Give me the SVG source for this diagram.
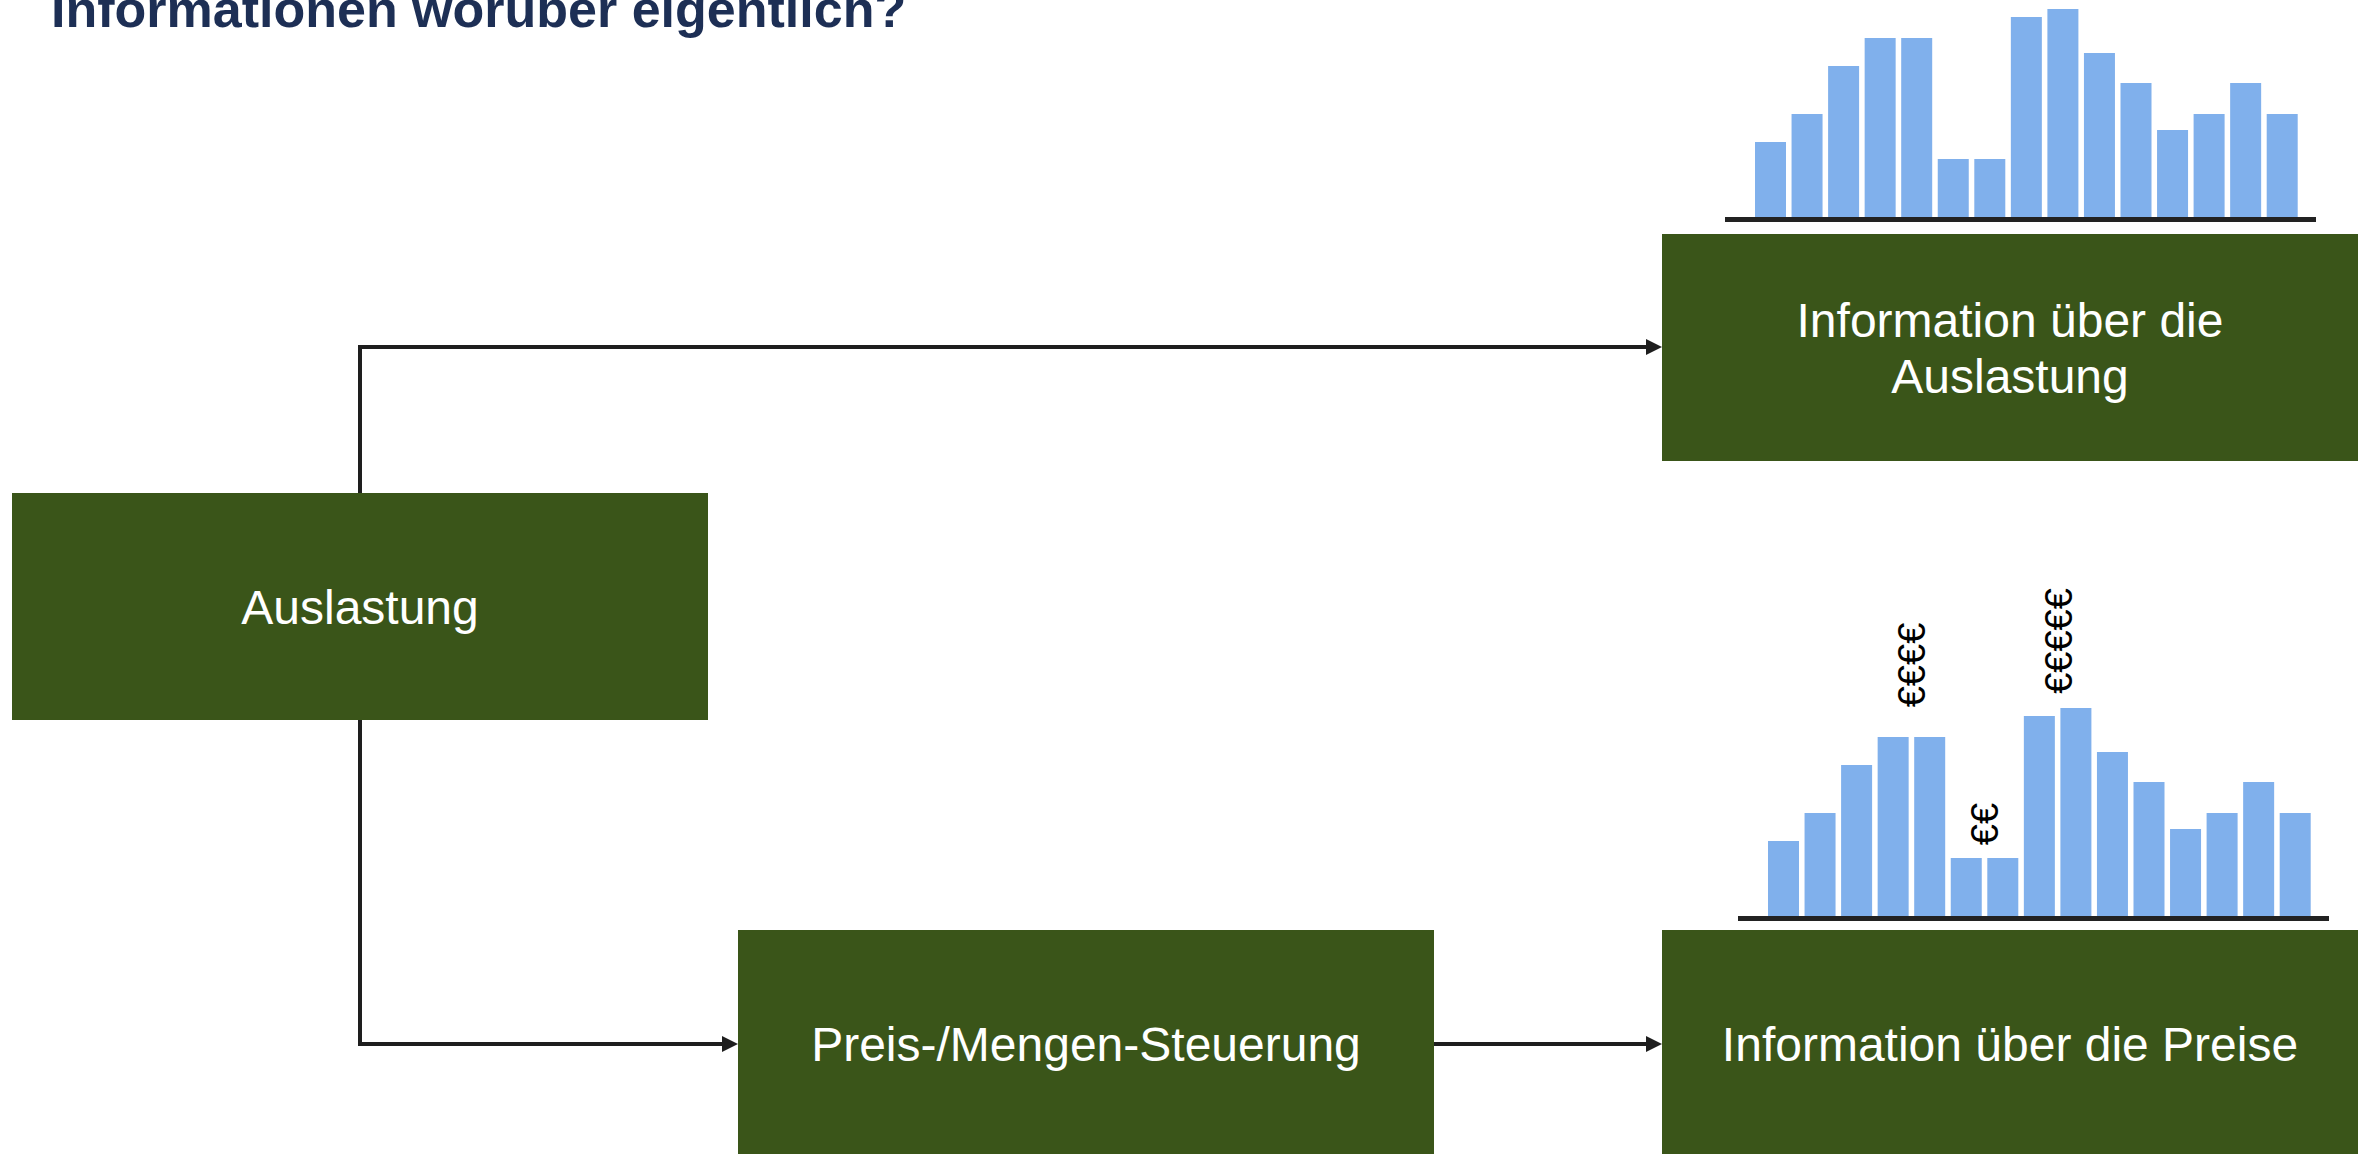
<svg xmlns="http://www.w3.org/2000/svg" width="2366" height="1154" viewBox="0 0 2366 1154">
<defs>
<style>
.box{fill:#3a5519}
.lbl{font-family:"Liberation Sans",Arial,sans-serif;font-size:48px;fill:#ffffff;text-anchor:middle}
.bar{fill:#80b0ec}
.axis{stroke:#222222;stroke-width:5}
.conn{fill:none;stroke:#1e1e1e;stroke-width:4}
.eur{font-family:"Liberation Sans",Arial,sans-serif;font-size:38px;fill:#000000;text-anchor:middle}
.title{font-family:"Liberation Sans",Arial,sans-serif;font-size:52px;font-weight:bold;fill:#1d2f55}
</style>
<marker id="arr" markerUnits="userSpaceOnUse" markerWidth="16" markerHeight="16" refX="4" refY="8" orient="auto">
<path d="M0,0 L16,8 L0,16 z" fill="#1e1e1e"/>
</marker>
<g id="bars">
<rect class="bar" x="0" y="-75" width="31" height="75"/>
<rect class="bar" x="36.55" y="-103" width="31" height="103"/>
<rect class="bar" x="73.1" y="-151" width="31" height="151"/>
<rect class="bar" x="109.65" y="-179" width="31" height="179"/>
<rect class="bar" x="146.2" y="-179" width="31" height="179"/>
<rect class="bar" x="182.75" y="-58" width="31" height="58"/>
<rect class="bar" x="219.3" y="-58" width="31" height="58"/>
<rect class="bar" x="255.85" y="-200" width="31" height="200"/>
<rect class="bar" x="292.4" y="-208" width="31" height="208"/>
<rect class="bar" x="328.95" y="-164" width="31" height="164"/>
<rect class="bar" x="365.5" y="-134" width="31" height="134"/>
<rect class="bar" x="402.05" y="-87" width="31" height="87"/>
<rect class="bar" x="438.6" y="-103" width="31" height="103"/>
<rect class="bar" x="475.15" y="-134" width="31" height="134"/>
<rect class="bar" x="511.7" y="-103" width="31" height="103"/>
</g>
</defs>
<rect width="2366" height="1154" fill="#ffffff"/>
<text class="title" x="51" y="27">Informationen worüber eigentlich?</text>

<g id="connectors">
<path class="conn" d="M360,493 V347 H1650" marker-end="url(#arr)"/>
<path class="conn" d="M360,720 V1044 H726" marker-end="url(#arr)"/>
<path class="conn" d="M1434,1044 H1650" marker-end="url(#arr)"/>
</g>

<g id="chart-auslastung">
<use href="#bars" x="1755" y="217"/>
<line class="axis" x1="1725" y1="219.5" x2="2316" y2="219.5"/>
</g>

<g id="chart-preise">
<use href="#bars" x="1768" y="916"/>
<line class="axis" x1="1738" y1="918.5" x2="2329" y2="918.5"/>
<text class="eur" transform="translate(1925,665) rotate(-90)">€€€€</text>
<text class="eur" transform="translate(2072,641) rotate(-90)">€€€€€</text>
<text class="eur" transform="translate(1998,824) rotate(-90)">€€</text>
</g>

<g id="node-auslastung">
<rect class="box" x="12" y="493" width="696" height="227"/>
<text class="lbl" x="360" y="624">Auslastung</text>
</g>

<g id="node-info-auslastung">
<rect class="box" x="1662" y="234" width="696" height="227"/>
<text class="lbl" x="2010" y="337">Information über die</text>
<text class="lbl" x="2010" y="393">Auslastung</text>
</g>

<g id="node-steuerung">
<rect class="box" x="738" y="930" width="696" height="227"/>
<text class="lbl" x="1086" y="1061">Preis-/Mengen-Steuerung</text>
</g>

<g id="node-info-preise">
<rect class="box" x="1662" y="930" width="696" height="227"/>
<text class="lbl" x="2010" y="1061">Information über die Preise</text>
</g>
</svg>
